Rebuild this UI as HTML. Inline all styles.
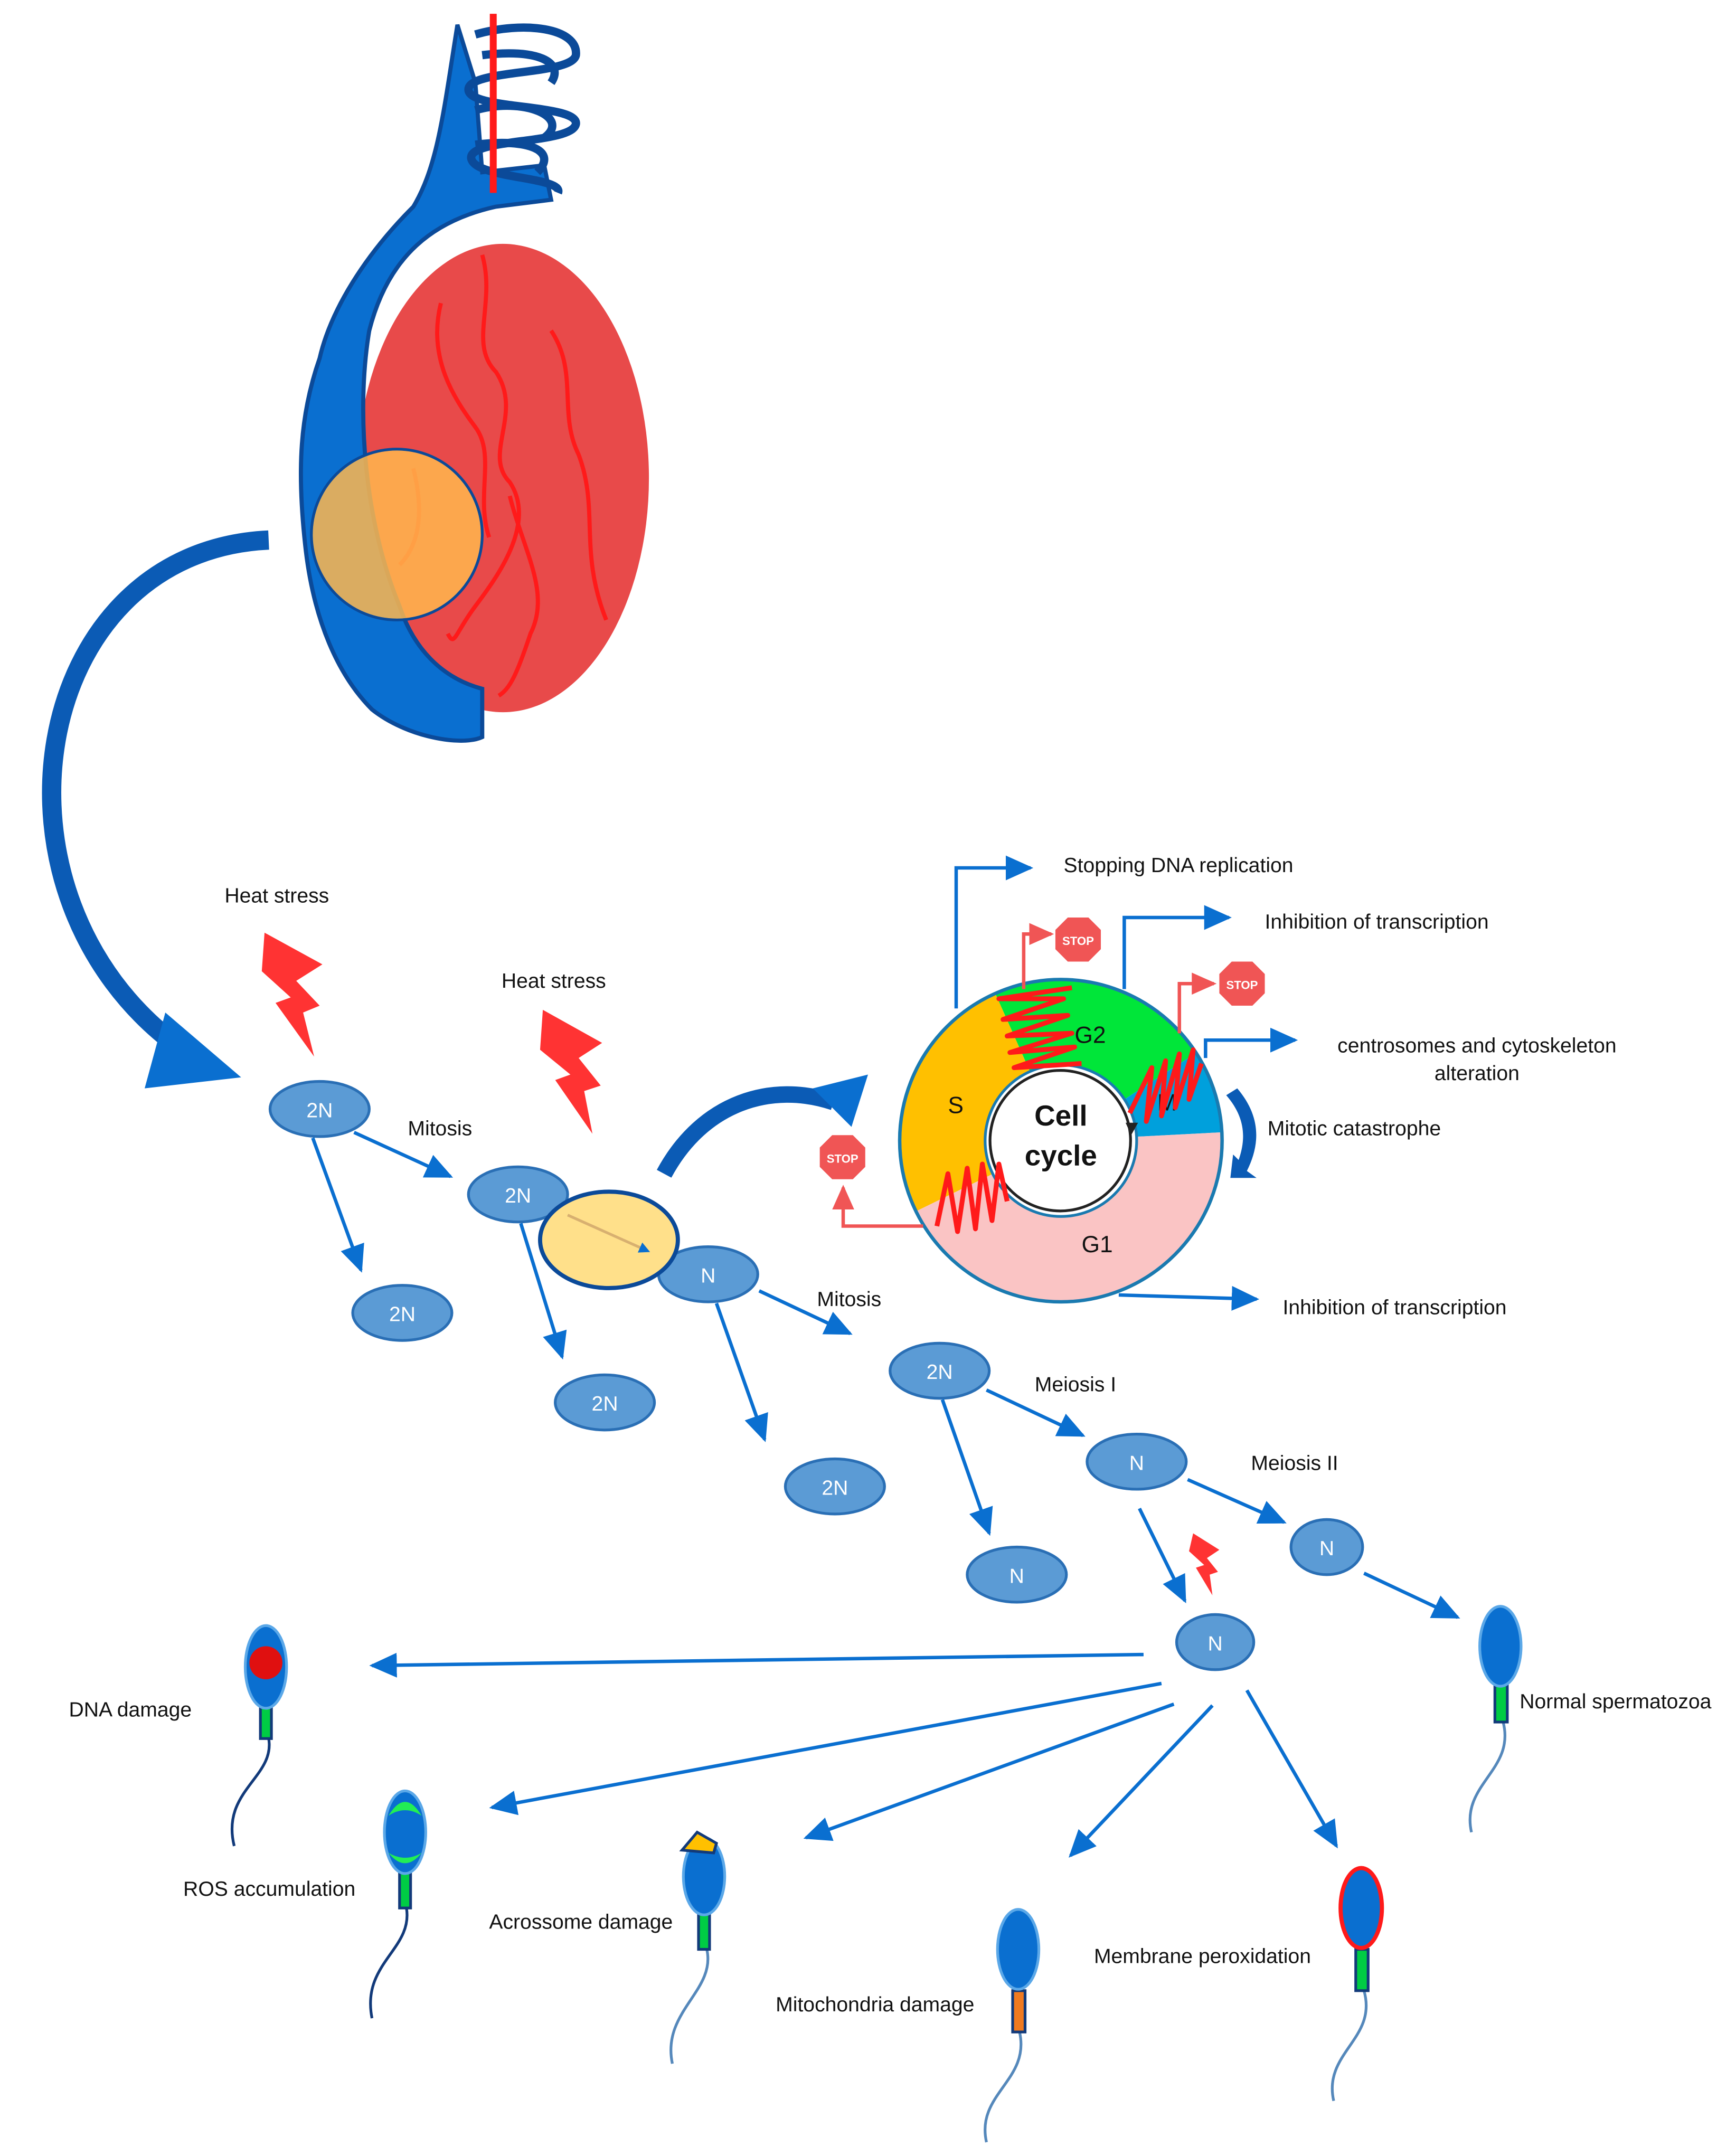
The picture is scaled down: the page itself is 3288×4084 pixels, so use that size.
<!DOCTYPE html>
<html><head><meta charset="utf-8"><style>
html,body{margin:0;padding:0;background:#fff}
svg{display:block}
text{font-family:"Liberation Sans",sans-serif;fill:#111}
</style></head><body>
<svg width="3288" height="4084" viewBox="0 0 1260 1565" xmlns="http://www.w3.org/2000/svg">
<defs>
<marker id="ab" markerWidth="8" markerHeight="8" refX="6" refY="4" orient="auto" markerUnits="userSpaceOnUse" viewBox="0 0 8 8"><path d="M0,0 L8,4 L0,8 Z" fill="#0a6fd0"/></marker>
<marker id="ab2" markerWidth="20" markerHeight="18" refX="18" refY="9" orient="auto" markerUnits="userSpaceOnUse"><path d="M0,0 L20,9 L0,18 Z" fill="#0a6fd0"/></marker>
<marker id="ar" markerWidth="18" markerHeight="16" refX="16" refY="8" orient="auto" markerUnits="userSpaceOnUse"><path d="M0,0 L18,8 L0,16 Z" fill="#f05555"/></marker>
</defs>

<!-- testis -->
<ellipse cx="365" cy="347" rx="106" ry="170" fill="#e84a4a"/>
<path d="M332,18 C322,80 318,120 300,150 C265,185 240,225 232,260 C218,300 215,340 222,400 C228,450 245,490 270,515 C295,535 335,542 350,535 L350,500 C320,492 300,470 290,440 C265,380 258,300 268,240 C282,185 315,160 360,150 L400,145 L395,120 L350,125 L345,60 Z" fill="#0a6fd0" stroke="#0b4a99" stroke-width="3"/>
<g fill="none" stroke="#0b4a99" stroke-width="6">
<path d="M345,25 C380,15 420,20 418,40 C415,55 340,50 340,65 C340,80 420,75 418,90 C415,105 340,100 342,115 C345,130 410,128 405,140"/>
<path d="M350,40 C390,35 410,45 400,60 M345,80 C380,70 415,85 395,100 M345,105 C385,100 405,110 390,125"/>
</g>
<line x1="358" y1="10" x2="358" y2="140" stroke="#ff1a1a" stroke-width="5"/>
<g fill="none" stroke="#ff1a1a" stroke-width="3">
<path d="M350,185 C360,220 340,250 360,270 C380,300 350,330 370,350 C390,380 360,420 345,440 C330,460 330,470 325,460"/>
<path d="M320,220 C310,260 330,290 345,310 C360,330 345,360 355,390"/>
<path d="M400,240 C420,270 405,300 420,330 C435,370 420,400 440,450"/>
<path d="M370,360 C380,400 400,430 385,460 C375,490 370,500 362,505"/>
<path d="M300,340 C310,380 300,400 290,410"/>
</g>
<circle cx="288" cy="388" r="62" fill="#ffb74d" fill-opacity="0.85" stroke="#0b4a99" stroke-width="2"/>

<!-- big curved arrow -->
<path d="M195,392 C20,400 -20,650 130,760" fill="none" stroke="#0b5bb5" stroke-width="14"/>
<path d="M105,790 L175,782 L120,735 Z" fill="#0a6fd0"/>

<!-- heat stress -->
<text x="163" y="655" font-size="15">Heat stress</text>
<path d="M192,677 L234,700 L215,712 L232,730 L220,735 L228,767 L200,728 L211,724 L190,705 Z" fill="#ff3333"/>
<text x="364" y="717" font-size="15">Heat stress</text>
<path d="M394,733 L437,757 L420,768 L436,788 L424,792 L430,823 L403,784 L414,780 L392,762 Z" fill="#ff3333"/>
<path d="M866,1113 L885,1125 L876,1131 L884,1141 L878,1143 L880,1158 L868,1138 L874,1136 L863,1126 Z" fill="#ff3333"/>

<!-- cells -->
<g fill="#5b9bd5" stroke="#2a6fb5" stroke-width="2">
<ellipse cx="232" cy="805" rx="36" ry="20"/>
<ellipse cx="376" cy="867" rx="36" ry="20"/>
<ellipse cx="292" cy="953" rx="36" ry="20"/>
<ellipse cx="514" cy="925" rx="36" ry="20"/>
<ellipse cx="439" cy="1018" rx="36" ry="20"/>
<ellipse cx="606" cy="1079" rx="36" ry="20"/>
<ellipse cx="682" cy="995" rx="36" ry="20"/>
<ellipse cx="825" cy="1061" rx="36" ry="20"/>
<ellipse cx="738" cy="1143" rx="36" ry="20"/>
<ellipse cx="963" cy="1123" rx="26" ry="20"/>
<ellipse cx="882" cy="1192" rx="28" ry="20"/>
</g>
<ellipse cx="442" cy="900" rx="50" ry="35" fill="#ffe08a" stroke="#0b4a99" stroke-width="3"/>
<line x1="412" y1="882" x2="470" y2="908" stroke="#d8b070" stroke-width="2" marker-end="url(#ab)"/>
<g font-size="15" text-anchor="middle">
<text x="232" y="811" style="fill:#fff">2N</text>
<text x="376" y="873" style="fill:#fff">2N</text>
<text x="292" y="959" style="fill:#fff">2N</text>
<text x="514" y="931" style="fill:#fff">N</text>
<text x="439" y="1024" style="fill:#fff">2N</text>
<text x="606" y="1085" style="fill:#fff">2N</text>
<text x="682" y="1001" style="fill:#fff">2N</text>
<text x="825" y="1067" style="fill:#fff">N</text>
<text x="738" y="1149" style="fill:#fff">N</text>
<text x="963" y="1129" style="fill:#fff">N</text>
<text x="882" y="1198" style="fill:#fff">N</text>
</g>

<!-- arrows -->
<g stroke="#0a6fd0" stroke-width="2.5" fill="none" marker-end="url(#ab2)">
<line x1="257" y1="822" x2="327" y2="854"/>
<line x1="227" y1="826" x2="262" y2="922"/>
<line x1="378" y1="888" x2="408" y2="985"/>
<line x1="551" y1="937" x2="617" y2="968"/>
<line x1="520" y1="946" x2="555" y2="1045"/>
<line x1="716" y1="1009" x2="786" y2="1042"/>
<line x1="684" y1="1016" x2="718" y2="1113"/>
<line x1="862" y1="1074" x2="932" y2="1105"/>
<line x1="827" y1="1095" x2="860" y2="1162"/>
<line x1="990" y1="1142" x2="1058" y2="1174"/>
<line x1="830" y1="1201" x2="270" y2="1209"/>
<line x1="843" y1="1222" x2="357" y2="1312"/>
<line x1="852" y1="1237" x2="585" y2="1334"/>
<line x1="880" y1="1238" x2="777" y2="1347"/>
<line x1="905" y1="1227" x2="970" y2="1340"/>
</g>
<g font-size="15">
<text x="296" y="824">Mitosis</text>
<text x="593" y="948">Mitosis</text>
<text x="751" y="1010">Meiosis I</text>
<text x="908" y="1067">Meiosis II</text>
</g>

<!-- curved arrow to cell cycle -->
<path d="M482,852 C510,800 560,785 605,800" fill="none" stroke="#0b5bb5" stroke-width="12"/>
<path d="M630,780 L618,818 L590,790 Z" fill="#0a6fd0"/>

<!-- cell cycle -->
<g stroke="none">
<path d="M664.8,879.3 A117,117 0 0 1 722.4,721.1 L747.6,777.8 A55,55 0 0 0 720.6,852.1 Z" fill="#ffc000"/>
<path d="M722.4,721.1 A117,117 0 0 1 868.1,764.3 L816.1,798 A55,55 0 0 0 747.6,777.8 Z" fill="#00e639"/>
<path d="M868.1,764.3 A117,117 0 0 1 886.8,821.9 L824.9,825.1 A55,55 0 0 0 816.1,798 Z" fill="#00a0dc"/>
<path d="M886.8,821.9 A117,117 0 0 1 664.8,879.3 L720.6,852.1 A55,55 0 0 0 824.9,825.1 Z" fill="#fac4c4"/>
</g>
<circle cx="770" cy="828" r="117" fill="none" stroke="#1a7ab0" stroke-width="2.5"/>
<circle cx="770" cy="828" r="55" fill="#fff" stroke="#1a7ab0" stroke-width="2"/>
<path d="M770,777 A51,51 0 1 1 720,840 A51,51 0 0 1 770,777" fill="none" stroke="#222" stroke-width="2"/>
<path d="M817,815 L826,815 L821,824 Z" fill="#222"/>
<text x="770" y="817" font-size="21" font-weight="bold" text-anchor="middle">Cell</text>
<text x="770" y="846" font-size="21" font-weight="bold" text-anchor="middle">cycle</text>
<g font-size="17">
<text x="688" y="808">S</text>
<text x="780" y="757">G2</text>
<text x="840" y="806">M</text>
<text x="785" y="909">G1</text>
</g>
<!-- zigzags -->
<g fill="none" stroke="#ff1a1a" stroke-width="3.5" stroke-linejoin="round">
<polyline points="778,717 725,725 772,725 728,740 775,737 731,752 778,750 733,764 780,760 736,775 785,772"/>
<polyline points="820,808 836,775 832,814 846,770 843,810 856,765 853,804 866,762 863,798 872,772"/>
<polyline points="680,890 688,852 695,894 702,848 708,892 713,845 720,886 725,845 731,872"/>
</g>

<!-- stops -->
<g>
<polygon points="775,666 790,666 799,675 799,689 790,698 775,698 766,689 766,675" fill="#f05555"/>
<text x="782.5" y="686" font-size="8.5" font-weight="bold" text-anchor="middle" style="fill:#fff">STOP</text>
<polygon points="894,698 909,698 918,707 918,721 909,730 894,730 885,721 885,707" fill="#f05555"/>
<text x="901.5" y="718" font-size="8.5" font-weight="bold" text-anchor="middle" style="fill:#fff">STOP</text>
<polygon points="604,824 619,824 628,833 628,847 619,856 604,856 595,847 595,833" fill="#f05555"/>
<text x="611.5" y="844" font-size="8.5" font-weight="bold" text-anchor="middle" style="fill:#fff">STOP</text>
</g>
<g fill="none" stroke="#f05555" stroke-width="2.5">
<polyline points="743,718 743,678 763,678" marker-end="url(#ar)"/>
<polyline points="856,750 856,714 881,714" marker-end="url(#ar)"/>
<polyline points="670,890 612,890 612,862" marker-end="url(#ar)"/>
</g>

<!-- blue outputs -->
<g fill="none" stroke="#0a6fd0" stroke-width="2.5" marker-end="url(#ab2)">
<polyline points="694,732 694,630 748,630"/>
<polyline points="816,718 816,666 892,666"/>
<polyline points="875,768 875,755 940,755"/>
<polyline points="812,940 912,943"/>
</g>
<path d="M898,790 C915,810 915,830 905,850 L912,855 L893,855 L895,838 L899,842 C905,825 903,810 890,795 Z" fill="#0b5bb5"/>
<g font-size="15">
<text x="772" y="633">Stopping DNA replication</text>
<text x="918" y="674">Inhibition of transcription</text>
<text x="1072" y="764" text-anchor="middle">centrosomes and cytoskeleton</text>
<text x="1072" y="784" text-anchor="middle">alteration</text>
<text x="920" y="824">Mitotic  catastrophe</text>
<text x="931" y="954">Inhibition of transcription</text>
</g>

<!-- sperm -->
<g stroke-width="2" fill="none">
<path d="M195,1262 C200,1290 160,1300 170,1340" stroke="#123a7a"/>
<rect x="189" y="1235" width="8" height="27" fill="#00cc44" stroke="#123a7a"/>
<ellipse cx="193" cy="1210" rx="15" ry="30" fill="#0a6fd0" stroke="#5ba8e8"/>
<circle cx="193" cy="1207" r="12" fill="#e01010"/>
<path d="M295,1385 C300,1415 262,1425 270,1465" stroke="#123a7a"/>
<rect x="290" y="1358" width="8" height="27" fill="#00cc44" stroke="#123a7a"/>
<ellipse cx="294" cy="1330" rx="15" ry="30" fill="#0a6fd0" stroke="#5ba8e8"/>
<path d="M282,1318 Q294,1298 306,1318 Q294,1310 282,1318 Z M282,1345 Q294,1360 306,1345 Q294,1352 282,1345Z" fill="#22ee55" stroke="none"/>
<path d="M513,1415 C520,1445 480,1460 488,1498" stroke="#5588bb"/>
<rect x="507" y="1388" width="8" height="27" fill="#00cc44" stroke="#123a7a"/>
<ellipse cx="511" cy="1362" rx="15" ry="28" fill="#0a6fd0" stroke="#5ba8e8"/>
<path d="M495,1343 L506,1330 L520,1338 L518,1345 Z" fill="#ffc000" stroke="#123a7a"/>
<path d="M740,1475 C748,1510 708,1520 716,1555" stroke="#5588bb"/>
<rect x="735" y="1445" width="9" height="30" fill="#f07a20" stroke="#123a7a"/>
<ellipse cx="739" cy="1415" rx="15" ry="29" fill="#0a6fd0" stroke="#5ba8e8"/>
<path d="M990,1445 C1000,1480 960,1490 968,1525" stroke="#5588bb"/>
<rect x="984" y="1415" width="9" height="30" fill="#00cc44" stroke="#123a7a"/>
<ellipse cx="988" cy="1385" rx="15" ry="29" fill="#0a6fd0" stroke="#ff1a1a" stroke-width="3"/>
<path d="M1091,1250 C1100,1285 1060,1295 1068,1330" stroke="#5588bb"/>
<rect x="1085" y="1222" width="9" height="28" fill="#00cc44" stroke="#123a7a"/>
<ellipse cx="1089" cy="1195" rx="15" ry="29" fill="#0a6fd0" stroke="#5ba8e8"/>
</g>
<g font-size="15">
<text x="50" y="1246">DNA damage</text>
<text x="133" y="1376">ROS accumulation</text>
<text x="355" y="1400">Acrossome damage</text>
<text x="563" y="1460">Mitochondria damage</text>
<text x="794" y="1425">Membrane peroxidation</text>
<text x="1103" y="1240">Normal spermatozoa</text>
</g>
</svg>
</body></html>
